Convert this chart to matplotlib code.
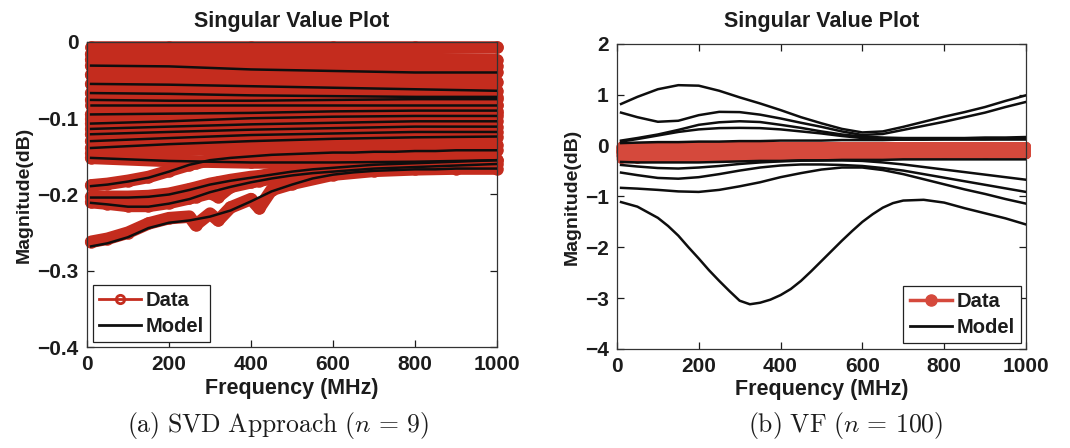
import matplotlib.pyplot as plt
from matplotlib.lines import Line2D

plt.rcParams['font.family'] = ['Liberation Sans', 'DejaVu Sans']
plt.rcParams['font.weight'] = 'bold'
plt.rcParams['axes.titleweight'] = 'bold'
plt.rcParams['axes.labelweight'] = 'bold'
plt.rcParams['mathtext.fontset'] = 'cm'

# frequency grids (MHz)
freq = [10, 50, 100, 150, 200, 250, 300, 350, 400, 450, 500,
        550, 600, 650, 700, 750, 800, 850, 900, 950, 1000]
freq_band = [10, 200, 400, 600, 800, 1000]
freq_low = [10, 50, 100, 150, 200, 250, 265, 300, 320, 350, 400,
            420, 450, 500, 600, 700, 800, 900, 1000]
freq_dip = [10, 50, 100, 125, 150, 175, 200, 225, 250, 275, 300, 325, 350, 375,
            400, 425, 450, 475, 500, 525, 550, 575, 600, 625, 650, 675, 700,
            750, 800, 850, 900, 950, 1000]

# singular values (dB) of the measured data, nearly flat group
band_data = [
    [-0.006, -0.006, -0.006, -0.006, -0.006, -0.006],
    [-0.016, -0.016, -0.018, -0.020, -0.022, -0.024],
    [-0.031, -0.032, -0.036, -0.038, -0.040, -0.040],
    [-0.055, -0.056, -0.058, -0.060, -0.062, -0.064],
    [-0.067, -0.068, -0.070, -0.071, -0.072, -0.072],
    [-0.076, -0.077, -0.077, -0.076, -0.075, -0.075],
    [-0.083, -0.083, -0.083, -0.083, -0.083, -0.083],
    [-0.095, -0.094, -0.093, -0.091, -0.090, -0.090],
    [-0.107, -0.104, -0.100, -0.098, -0.097, -0.097],
    [-0.114, -0.111, -0.108, -0.106, -0.104, -0.104],
    [-0.121, -0.118, -0.115, -0.113, -0.111, -0.111],
    [-0.130, -0.126, -0.122, -0.120, -0.118, -0.118],
    [-0.139, -0.134, -0.130, -0.127, -0.125, -0.124],
    [-0.152, -0.156, -0.158, -0.158, -0.157, -0.155],
]
# data singular values without a visible model trace
extra_data = [
    [-0.023, -0.024, -0.026, -0.028, -0.030, -0.031],
    [-0.043, -0.044, -0.046, -0.048, -0.050, -0.052],
    [-0.101, -0.099, -0.097, -0.095, -0.094, -0.093],
    [-0.146, -0.142, -0.139, -0.137, -0.136, -0.135],
]
# SVD model of the flat group
band_model = band_data[2:]

# lower singular values of the data (with small resonances)
low_data = [
    [-0.188, -0.186, -0.182, -0.177, -0.169, -0.161, -0.159, -0.155, -0.153, -0.152,
     -0.150, -0.149, -0.148, -0.147, -0.145, -0.144, -0.143, -0.142, -0.142],
    [-0.203, -0.203, -0.203, -0.202, -0.199, -0.193, -0.191, -0.186, -0.184, -0.181,
     -0.177, -0.176, -0.173, -0.170, -0.165, -0.161, -0.159, -0.157, -0.155],
    [-0.210, -0.212, -0.215, -0.215, -0.211, -0.205, -0.203, -0.198, -0.203, -0.190,
     -0.184, -0.182, -0.179, -0.175, -0.170, -0.166, -0.164, -0.162, -0.160],
    [-0.262, -0.258, -0.250, -0.238, -0.231, -0.229, -0.240, -0.225, -0.234, -0.217,
     -0.206, -0.218, -0.194, -0.186, -0.174, -0.169, -0.167, -0.166, -0.166],
]
low_model = [
    [-0.189, -0.187, -0.183, -0.178, -0.170, -0.161, -0.155, -0.152, -0.150, -0.148, -0.147,
     -0.146, -0.145, -0.145, -0.144, -0.144, -0.143, -0.143, -0.142, -0.142, -0.142],
    [-0.204, -0.204, -0.204, -0.203, -0.200, -0.194, -0.187, -0.182, -0.178, -0.174, -0.170,
     -0.167, -0.165, -0.163, -0.161, -0.160, -0.159, -0.158, -0.157, -0.156, -0.155],
    [-0.211, -0.213, -0.216, -0.216, -0.212, -0.206, -0.197, -0.190, -0.184, -0.179, -0.175,
     -0.172, -0.170, -0.168, -0.166, -0.165, -0.164, -0.163, -0.162, -0.161, -0.160],
    [-0.268, -0.264, -0.256, -0.244, -0.237, -0.234, -0.229, -0.221, -0.209, -0.196, -0.187,
     -0.179, -0.174, -0.171, -0.169, -0.168, -0.167, -0.167, -0.166, -0.166, -0.166],
]

# vector fitting model singular values (dB)
vf_model = [
    [0.82, 0.96, 1.11, 1.19, 1.18, 1.08, 0.95, 0.83, 0.70, 0.56, 0.44,
     0.33, 0.26, 0.28, 0.37, 0.47, 0.57, 0.66, 0.76, 0.88, 0.99],
    [0.65, 0.56, 0.47, 0.49, 0.60, 0.665, 0.66, 0.61, 0.535, 0.45, 0.37,
     0.28, 0.21, 0.23, 0.31, 0.39, 0.47, 0.56, 0.65, 0.76, 0.86],
    [0.10, 0.15, 0.22, 0.31, 0.41, 0.46, 0.48, 0.465, 0.41, 0.35, 0.28,
     0.22, 0.18, 0.16, 0.15, 0.15, 0.15, 0.15, 0.16, 0.16, 0.17],
    [0.08, 0.13, 0.20, 0.27, 0.32, 0.345, 0.35, 0.345, 0.32, 0.28, 0.24,
     0.19, 0.15, 0.13, 0.12, 0.12, 0.12, 0.12, 0.12, 0.12, 0.12],
    [0.05, 0.06, 0.07, 0.07, 0.08, 0.08, 0.09, 0.09, 0.10, 0.10, 0.10,
     0.11, 0.11, 0.11, 0.12, 0.12, 0.13, 0.13, 0.13, 0.14, 0.14],
    [-0.32, -0.33, -0.33, -0.33, -0.33, -0.32, -0.31, -0.30, -0.30, -0.29, -0.29,
     -0.28, -0.28, -0.28, -0.27, -0.27, -0.27, -0.27, -0.27, -0.27, -0.27],
    [-0.38, -0.41, -0.44, -0.45, -0.43, -0.40, -0.36, -0.33, -0.31, -0.295, -0.29,
     -0.29, -0.30, -0.33, -0.37, -0.42, -0.47, -0.52, -0.57, -0.62, -0.67],
    [-0.53, -0.58, -0.635, -0.65, -0.62, -0.56, -0.49, -0.43, -0.39, -0.37, -0.37,
     -0.38, -0.40, -0.44, -0.49, -0.56, -0.63, -0.70, -0.77, -0.84, -0.91],
    [-0.83, -0.845, -0.87, -0.90, -0.91, -0.87, -0.80, -0.72, -0.62, -0.54, -0.47,
     -0.43, -0.43, -0.48, -0.56, -0.66, -0.76, -0.86, -0.95, -1.05, -1.14],
]
# deepest VF singular value, on the finer grid
vf_dip = [-1.11, -1.20, -1.42, -1.58, -1.77, -2.00, -2.22, -2.45, -2.66, -2.86,
          -3.05, -3.12, -3.09, -3.03, -2.94, -2.82, -2.66, -2.47, -2.27, -2.07,
          -1.87, -1.68, -1.50, -1.35, -1.22, -1.13, -1.08, -1.065, -1.12, -1.23,
          -1.33, -1.43, -1.55]

x_ticks = [0, 200, 400, 600, 800, 1000]
left_ticks = [-0.4, -0.3, -0.2, -0.1, 0]
left_labels = ['\u22120.4', '\u22120.3', '\u22120.2', '\u22120.1', '0']
right_ticks = [-4, -3, -2, -1, 0, 1, 2]

ink = '#1c1c1c'
red_a = '#c42c1e'
red_b = '#d5493c'
blk = '#0e0e0e'

fig = plt.figure(figsize=(10.7, 4.48), dpi=100)
ax1 = fig.add_axes([0.0813, 0.2254, 0.3832, 0.6809])
ax2 = fig.add_axes([0.5766, 0.2210, 0.3822, 0.6808])

def style(ax, yt, ylab, title_pad):
    ax.set_xlim(0, 1000)
    ax.set_xticks(x_ticks)
    ax.set_yticks(yt)
    if ylab is not None:
        ax.set_yticklabels(ylab)
    ax.tick_params(direction='in', length=5, width=0.9, top=True, right=True,
                   labelsize=15, colors=ink, pad=6)
    for s in ax.spines.values():
        s.set_linewidth(0.9)
        s.set_color('#333333')
    ax.set_xlabel('Frequency (MHz)', fontsize=15.5, color=ink)
    ax.set_ylabel('Magnitude(dB)', fontsize=14, color=ink)
    ax.xaxis.set_label_coords(0.5, -0.1)
    ax.set_title('Singular Value Plot', fontsize=15.5, color=ink, pad=title_pad)

def data_line(ax, f, v, color, w):
    ax.plot(f, v, color=color, lw=w, marker='o', ms=w, mfc=color, mec=color, mew=0,
            solid_capstyle='round', solid_joinstyle='round', zorder=2, clip_on=False)

# (a) SVD approach
for v in band_data + extra_data:
    data_line(ax1, freq_band, v, red_a, 9)
for v in low_data:
    data_line(ax1, freq_low, v, red_a, 9)
for v in band_model:
    ax1.plot(freq_band, v, color=blk, lw=1.8, zorder=3)
for v in low_model:
    ax1.plot(freq, v, color=blk, lw=1.8, zorder=3)
ax1.set_ylim(-0.4, 0)
style(ax1, left_ticks, left_labels, 10.5)
ax1.yaxis.set_label_coords(-0.132, 0.5)

# (b) vector fitting
for v in band_data + extra_data:
    data_line(ax2, freq_band, v, red_b, 6.5)
for v in low_data:
    data_line(ax2, freq_low, v, red_b, 6.5)
for v in vf_model:
    ax2.plot(freq, v, color=blk, lw=1.8, zorder=3)
ax2.plot(freq_dip, vf_dip, color=blk, lw=1.8, zorder=3)
ax2.set_ylim(-4, 2)
style(ax2, right_ticks, None, 12)
ax2.yaxis.set_label_coords(-0.088, 0.5)

# legends
h_data_a = Line2D([], [], color=red_a, lw=2, marker='o', ms=6, mfc='none', mec=red_a, mew=2)
h_data_b = Line2D([], [], color=red_b, lw=2.5, marker='o', ms=8, mfc=red_b, mec=red_b)
h_model = Line2D([], [], color=blk, lw=2)
leg_kw = dict(fontsize=14.5, frameon=True, fancybox=False, framealpha=1,
              edgecolor='#222222', handlelength=2.1, handletextpad=0.25,
              labelspacing=0.35, borderpad=0.3, borderaxespad=0)
l1 = ax1.legend([h_data_a, h_model], ['Data', 'Model'], loc='lower left',
                bbox_to_anchor=(0.014, 0.016), **leg_kw)
l2 = ax2.legend([h_data_b, h_model], ['Data', 'Model'], loc='lower right',
                bbox_to_anchor=(0.988, 0.02), **leg_kw)
for lg in (l1, l2):
    lg.get_frame().set_linewidth(0.9)
    for t in lg.get_texts():
        t.set_color(ink)

# captions
fig.text(0.26, 0.051, r'$\mathrm{(a)\ SVD\ Approach\ (}n\,=\,9\mathrm{)}$',
         ha='center', va='center', fontsize=18.5, color=ink)
fig.text(0.79, 0.051, r'$\mathrm{(b)\ VF\ (}n\,=\,100\mathrm{)}$',
         ha='center', va='center', fontsize=18.5, color=ink)

fig.savefig('out.png', dpi=100)
